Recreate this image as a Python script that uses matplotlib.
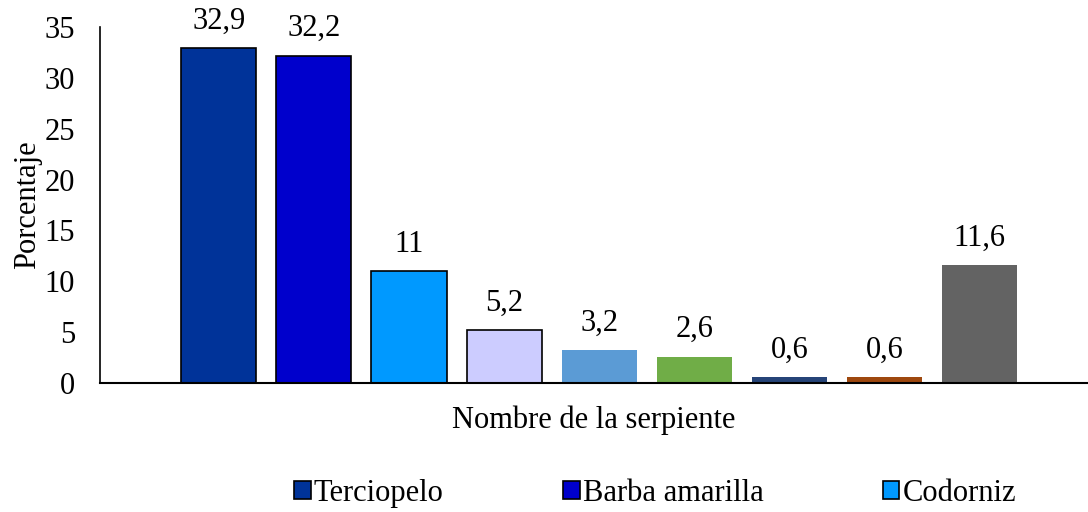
import matplotlib
matplotlib.use("Agg")
import matplotlib.pyplot as plt

# Datos: porcentaje por serpiente
series = ["Terciopelo", "Barba amarilla", "Codorniz", "S4", "S5", "S6", "S7", "S8", "S9"]
values = [32.9, 32.2, 11, 5.2, 3.2, 2.6, 0.6, 0.6, 11.6]
labels = ["32,9", "32,2", "11", "5,2", "3,2", "2,6", "0,6", "0,6", "11,6"]
colors = ["#003399", "#0000CC", "#0099FF", "#CCCCFF", "#5B9BD5",
          "#70AD47", "#264478", "#9E480E", "#636363"]
edges = ["black", "black", "black", "black", "none", "none", "none", "none", "none"]
yticks = [0, 5, 10, 15, 20, 25, 30, 35]

plt.rcParams["font.family"] = ["Liberation Serif", "DejaVu Serif"]
FS = 22

fig = plt.figure(figsize=(10.88, 5.12), dpi=100)
ax = fig.add_axes([0.0919, 0.252, 0.9071, 0.695])

handles = []
for i, (v, c, e, s) in enumerate(zip(values, colors, edges, series)):
    b = ax.bar(i, v, width=0.79, color=c, edgecolor=e, linewidth=1.2, label=s)
    handles.append(b)
    ax.annotate(labels[i], (i, v), xytext=(0, 9), textcoords="offset points",
                ha="center", va="bottom", fontsize=FS)

ax.set_xlim(-1.25, 9.13)
ax.set_ylim(0, 35)
ax.set_yticks(yticks)
ax.set_xticks([])
ax.tick_params(axis="y", length=0, labelsize=FS, pad=18)
for side in ["top", "right"]:
    ax.spines[side].set_visible(False)
ax.spines["left"].set_linewidth(1.2)
ax.spines["bottom"].set_linewidth(1.5)
ax.set_ylabel("Porcentaje", fontsize=FS, labelpad=2)
ax.set_xlabel("Nombre de la serpiente", fontsize=FS, labelpad=16)

fig.legend(handles[:3], series[:3], loc="center", bbox_to_anchor=(0.602, 0.036),
           ncol=3, frameon=False, fontsize=FS, handlelength=0.55, handleheight=0.55,
           handletextpad=0.1, columnspacing=3.9)

fig.savefig("out.png", dpi=100)
plt.close(fig)
